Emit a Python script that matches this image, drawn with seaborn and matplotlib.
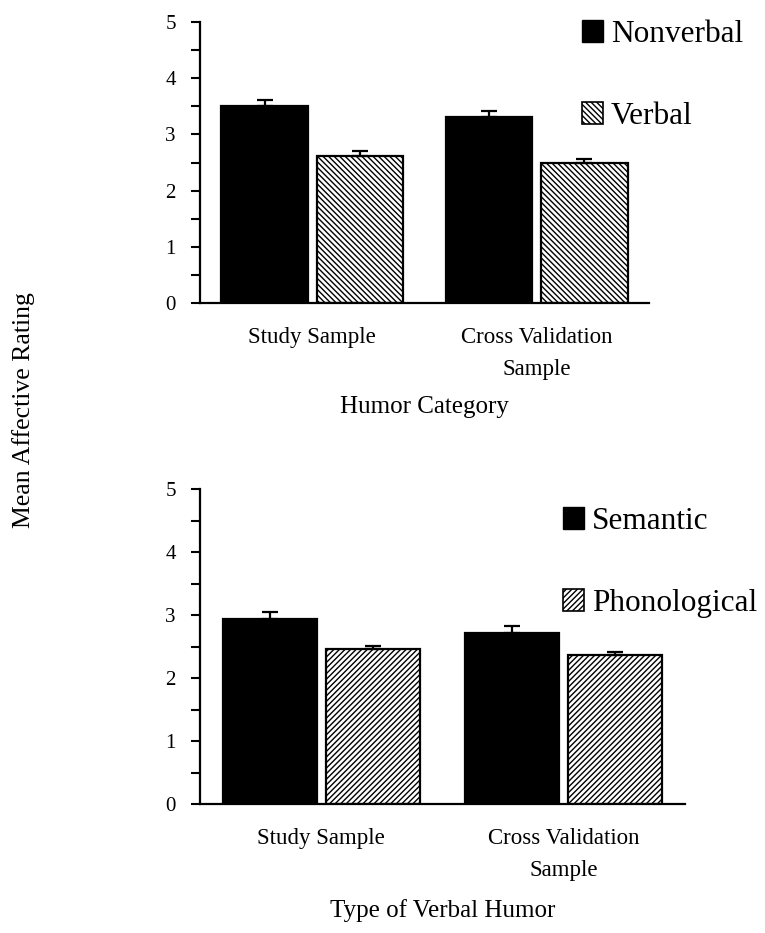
import numpy as np
import pandas as pd
import matplotlib
matplotlib.use("Agg")
import matplotlib.pyplot as plt
import seaborn as sns

# ---- data ----
samples = ["Study Sample", "Cross Validation\nSample"]

top_series = ["Nonverbal", "Verbal"]
top_nonverbal = [3.50, 3.31]
top_verbal = [2.62, 2.49]
top_nonverbal_err = [0.11, 0.11]
top_verbal_err = [0.08, 0.07]

bot_series = ["Semantic", "Phonological"]
bot_semantic = [2.94, 2.71]
bot_phonological = [2.46, 2.37]
bot_semantic_err = [0.11, 0.12]
bot_phonological_err = [0.05, 0.05]

top_xlabel = "Humor Category"
bot_xlabel = "Type of Verbal Humor"
ylabel = "Mean Affective Rating"
yticks = [0, 1, 2, 3, 4, 5]

sns.set_theme(style="ticks")
plt.rcParams["font.family"] = ["Liberation Serif", "DejaVu Serif"]
plt.rcParams["hatch.linewidth"] = 1.0
plt.rcParams["hatch.color"] = "black"
for k in ["text.color", "axes.labelcolor", "xtick.color", "ytick.color",
          "axes.edgecolor"]:
    plt.rcParams[k] = "black"

fig = plt.figure(figsize=(7.65, 9.33), dpi=100)
ax1 = fig.add_axes([200 / 765, 1 - 303 / 933, 449 / 765, 281 / 933])
ax2 = fig.add_axes([200 / 765, 1 - 804 / 933, 485 / 765, 315 / 933])


def draw(ax, series, v1, v2, e1, e2, hatch, xlabel, legend_anchor, labelpad):
    df = pd.DataFrame({
        "sample": samples * 2,
        "series": [series[0]] * 2 + [series[1]] * 2,
        "value": list(v1) + list(v2),
    })
    sns.barplot(data=df, x="sample", y="value", hue="series", order=samples,
                hue_order=series, palette=["black", "white"], width=0.85,
                gap=0.09, errorbar=None, ax=ax, legend=False,
                edgecolor="black", linewidth=1.6, saturation=1)
    errs = [e1, e2]
    vals = [v1, v2]
    conts = list(ax.containers)
    for i, cont in enumerate(conts):
        for p in cont.patches:
            if i == 0:
                p.set_facecolor("black")
            else:
                p.set_facecolor("white")
                p.set_hatch(hatch)
        xs = [p.get_x() + p.get_width() / 2 for p in cont.patches]
        ax.errorbar(xs, vals[i], yerr=[np.zeros(len(xs)), errs[i]], fmt="none",
                    ecolor="black", elinewidth=1.6, capsize=5.5, capthick=1.6,
                    zorder=1)
    ax.set_xlim(-0.5, 1.5)
    ax.set_ylim(0, 5)
    ax.set_yticks(yticks)
    ax.set_yticks(np.arange(0.5, 5, 1.0), minor=True)
    ax.tick_params(axis="y", which="both", direction="out", length=6.5,
                   width=1.5, color="black", labelsize=15, pad=11)
    ax.tick_params(axis="x", length=0, labelsize=16.5, pad=17)
    for lab in ax.get_xticklabels():
        lab.set_linespacing(1.7)
        lab.set_verticalalignment("top")
    ax.set_xlabel(xlabel, fontsize=18, labelpad=labelpad)
    ax.set_ylabel("")
    for s in ["top", "right"]:
        ax.spines[s].set_visible(False)
    for s in ["left", "bottom"]:
        ax.spines[s].set_linewidth(1.6)
        ax.spines[s].set_color("black")
    handles = [plt.Rectangle((0, 0), 1, 1, facecolor="black", edgecolor="black"),
               plt.Rectangle((0, 0), 1, 1, facecolor="white", edgecolor="black",
                             hatch=hatch, linewidth=1.2)]
    fig.legend(handles, series, loc="upper left", bbox_to_anchor=legend_anchor,
               bbox_transform=fig.transFigure, frameon=False, fontsize=22.5,
               handlelength=0.68, handleheight=0.68, handletextpad=0.25,
               labelspacing=1.7, borderpad=0, borderaxespad=0)


draw(ax1, top_series, top_nonverbal, top_verbal, top_nonverbal_err,
     top_verbal_err, "\\\\\\\\\\\\", top_xlabel, (582 / 765, 1 - 20 / 933), 12)
draw(ax2, bot_series, bot_semantic, bot_phonological, bot_semantic_err,
     bot_phonological_err, "//////", bot_xlabel, (563 / 765, 1 - 507 / 933), 13)

fig.text(24 / 765, 1 - 410 / 933, ylabel, rotation=90, ha="center",
         va="center", fontsize=18.5)

fig.savefig("out.png", dpi=100)
